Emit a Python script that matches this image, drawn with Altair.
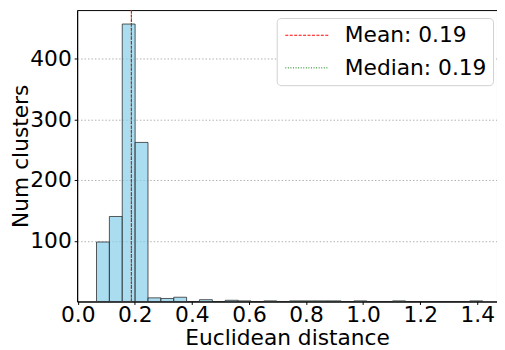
import altair as alt
import pandas as pd

# Histogram
bin_start = 0.0658
bin_width = 0.0451
counts = [98, 140, 457, 262, 6, 5, 7, 0, 3, 0, 2, 1, 0, 1, 0,
          1, 1, 1, 1, 0, 1, 0, 0, 1, 0, 0, 0, 0, 0, 1]
stat_labels = ["Mean: 0.19", "Median: 0.19"]
stat_values = [0.188, 0.188]
stat_colors = ["red", "green"]
x_ticks = [0.0, 0.2, 0.4, 0.6, 0.8, 1.0, 1.2, 1.4]
y_ticks = [100, 200, 300, 400]

bars = pd.DataFrame({
    "start": [bin_start + i * bin_width for i in range(len(counts))],
    "end": [bin_start + (i + 1) * bin_width for i in range(len(counts))],
    "count": counts,
})
stats = pd.DataFrame({"label": stat_labels, "value": stat_values})

FONT = "DejaVu Sans"
FS = 22
xscale = alt.Scale(domain=[-0.002, 1.469], nice=False, zero=False)
yscale = alt.Scale(domain=[0, 480], nice=False)

bar_layer = alt.Chart(bars).mark_rect(
    fill="#87ceeb", fillOpacity=0.7, stroke="#222222", strokeOpacity=0.75, strokeWidth=1
).encode(
    x=alt.X("start:Q", scale=xscale,
            axis=alt.Axis(values=x_ticks, format=".1f", title="Euclidean distance",
                          grid=False, tickSize=3, labelPadding=0, titlePadding=3)),
    x2="end:Q",
    y=alt.Y("count:Q", scale=yscale,
            axis=alt.Axis(values=y_ticks, title="Num clusters", grid=True,
                          gridColor="#b0b0b0", gridDash=[1.5, 2], gridWidth=1,
                          tickSize=3, labelPadding=3, titlePadding=-3)),
    y2=alt.datum(0),
)

stat_layer = alt.Chart(stats).mark_rule(strokeWidth=1.1).encode(
    x=alt.X("value:Q", scale=xscale),
    color=alt.Color("label:N",
                    scale=alt.Scale(domain=stat_labels, range=stat_colors),
                    sort=stat_labels,
                    legend=alt.Legend(title=None, orient="none", legendX=202, legendY=8,
                                      symbolType="M-0.8,0H3.2", symbolSize=484,
                                      symbolStrokeWidth=1, labelFontSize=FS,
                                      labelFont=FONT, labelOffset=40,
                                      strokeColor="#d0d0d0", cornerRadius=4,
                                      fillColor="white", padding=6, rowPadding=10,
                                      labelColor="black")),
    strokeDash=alt.StrokeDash("label:N",
                              scale=alt.Scale(domain=stat_labels, range=[[3, 1.5], [1, 1.6]]),
                              sort=stat_labels),
)

chart = alt.layer(bar_layer, stat_layer.transform_filter("datum.label == 'Median: 0.19'"),
                  stat_layer.transform_filter("datum.label == 'Mean: 0.19'")).properties(
    width=425,
    height=295,
    autosize=alt.AutoSizeParams(type="none"),
    padding={"left": 70, "top": 0, "right": 0, "bottom": 47},
).configure_view(
    stroke="black", strokeWidth=1
).configure_axis(
    labelFont=FONT, titleFont=FONT, labelFontSize=FS, titleFontSize=FS,
    titleFontWeight="normal", labelColor="black", titleColor="black",
    domainColor="black", tickColor="black", domainWidth=1,
).configure_axisX(labelFlush=False)

chart.save("out.html", embed_options={"renderer": "svg", "actions": False})
